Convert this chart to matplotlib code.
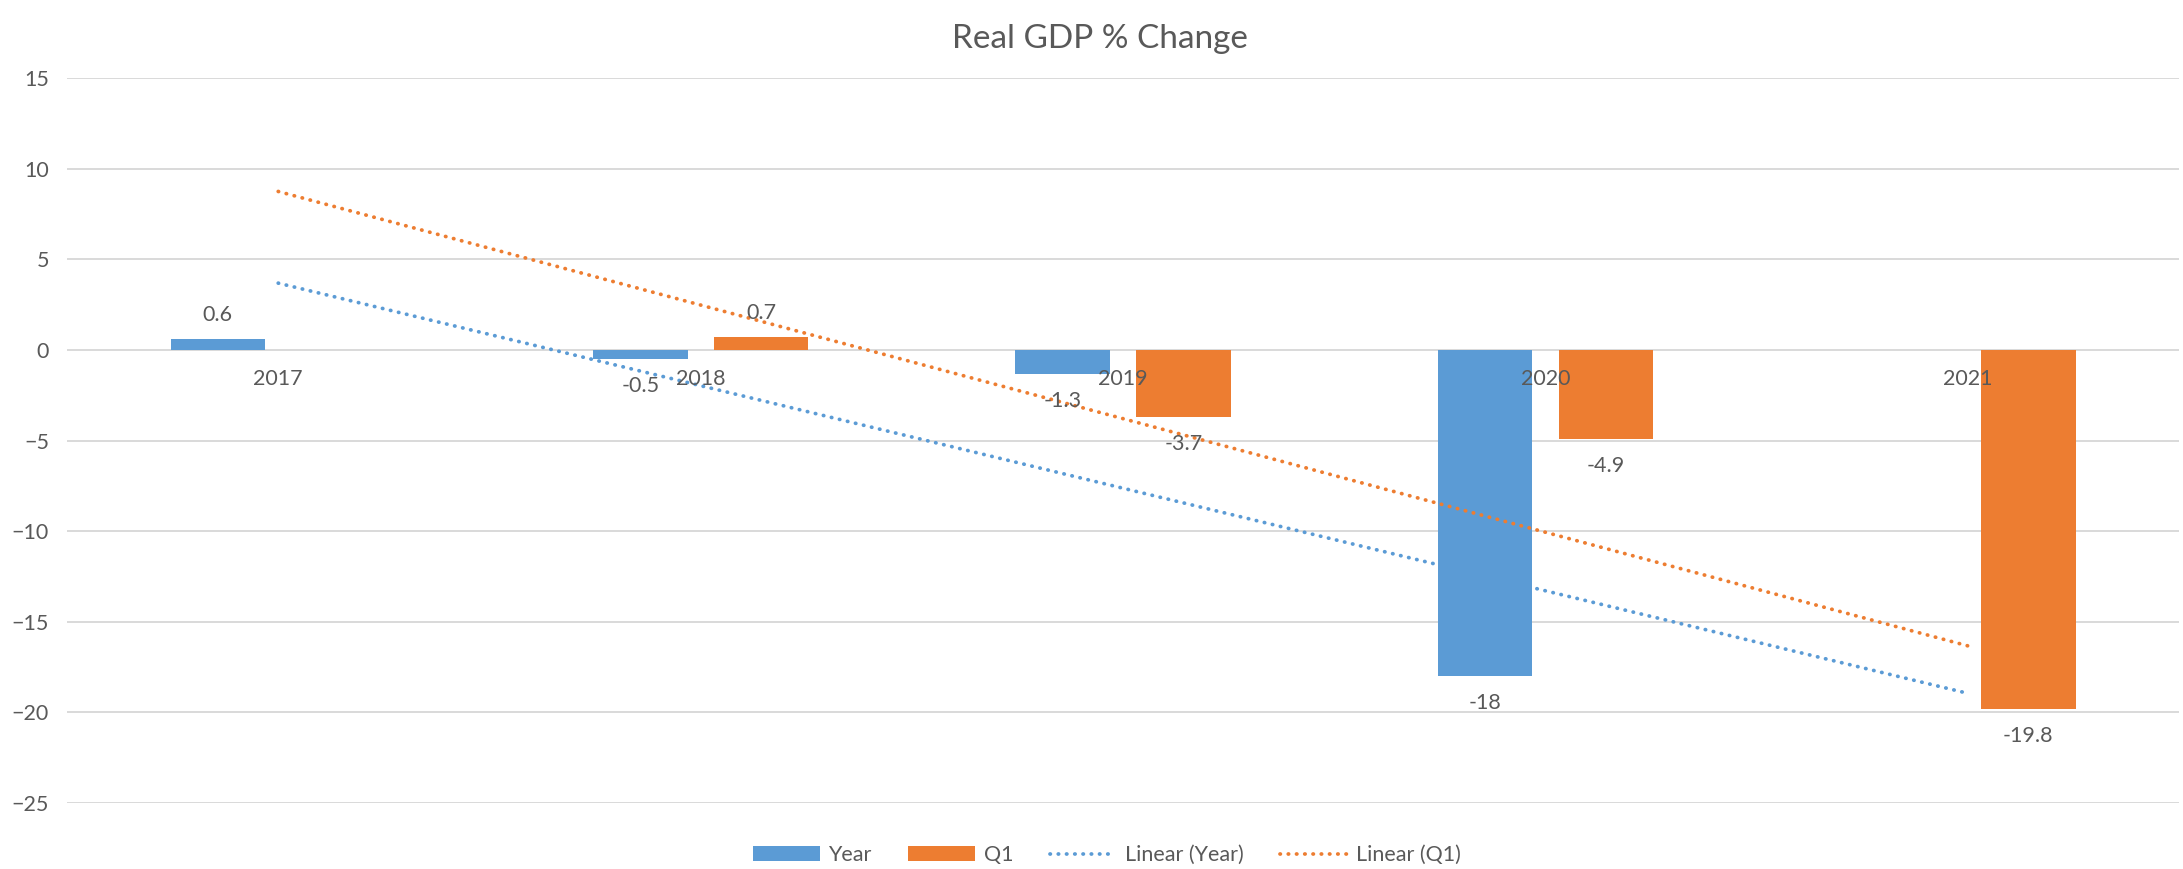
import numpy as np
import matplotlib.pyplot as plt

years = ['2017', '2018', '2019', '2020', '2021']
year_vals = [0.6, -0.5, -1.3, -18, np.nan]
q1_vals = [np.nan, 0.7, -3.7, -4.9, -19.8]

blue = '#5B9BD5'
orange = '#ED7D31'
txt = '#595959'
grid = '#D9D9D9'

plt.rcParams['font.family'] = ['Lato', 'DejaVu Sans']
fs = 15.5

fig = plt.figure(figsize=(21.83, 8.69), dpi=100)
ax = fig.add_axes([0.0307, 0.076, 0.9675, 0.834])

x = np.arange(len(years))
w = 0.224
off = 0.143

yv = np.array(year_vals, dtype=float)
qv = np.array(q1_vals, dtype=float)

ax.bar(x - off, yv, width=w, color=blue, zorder=2, label='Year')
ax.bar(x + off, qv, width=w, color=orange, zorder=2, label='Q1')

# data labels
for xs, vals in ((x - off, yv), (x + off, qv)):
    for xi, v in zip(xs, vals):
        if np.isnan(v):
            continue
        dy = 17.5 if v > 0 else -19.5
        ax.annotate('%g' % v, (xi, v), xytext=(0, dy), textcoords='offset points',
                    ha='center', va='center', fontsize=fs, color=txt, zorder=4)

# linear trendlines (fit on the points present, drawn across all categories)
xt = np.array([0, len(years) - 1])
for vals, c, lab in ((yv, blue, 'Linear (Year)'), (qv, orange, 'Linear (Q1)')):
    m = ~np.isnan(vals)
    k, b = np.polyfit(x[m], vals[m], 1)
    ax.plot(xt, k * xt + b, color=c, lw=2.7, linestyle=(0, (0.1, 2.1)),
            dash_capstyle='round', zorder=3, label=lab)

# category labels sit at the zero line
for xi, lab in zip(x, years):
    ax.annotate(lab, (xi, 0), xytext=(0, -21), textcoords='offset points',
                ha='center', va='center', fontsize=fs, color=txt, zorder=4)

ax.set_xlim(-0.5, len(years) - 0.5)
ax.set_ylim(-25, 15)
ax.set_yticks(np.arange(-25, 16, 5))
ax.set_xticks([])
ax.yaxis.grid(True, color=grid, lw=1.4, zorder=0)
ax.set_axisbelow(True)
ax.tick_params(axis='y', length=0, pad=13, labelsize=fs, labelcolor=txt)
for s in ax.spines.values():
    s.set_visible(False)

fig.suptitle('Real GDP % Change', x=0.504, y=0.972, fontsize=24, color=txt)

h, l = ax.get_legend_handles_labels()
order = [2, 3, 0, 1]
fig.legend([h[i] for i in order], [l[i] for i in order], loc='center',
           bbox_to_anchor=(0.507, 0.016), ncol=4, frameon=False, fontsize=fs,
           labelcolor=txt, handlelength=3.1, handleheight=0.65, columnspacing=1.7,
           handletextpad=0.4)

fig.savefig('out.png', dpi=100)
